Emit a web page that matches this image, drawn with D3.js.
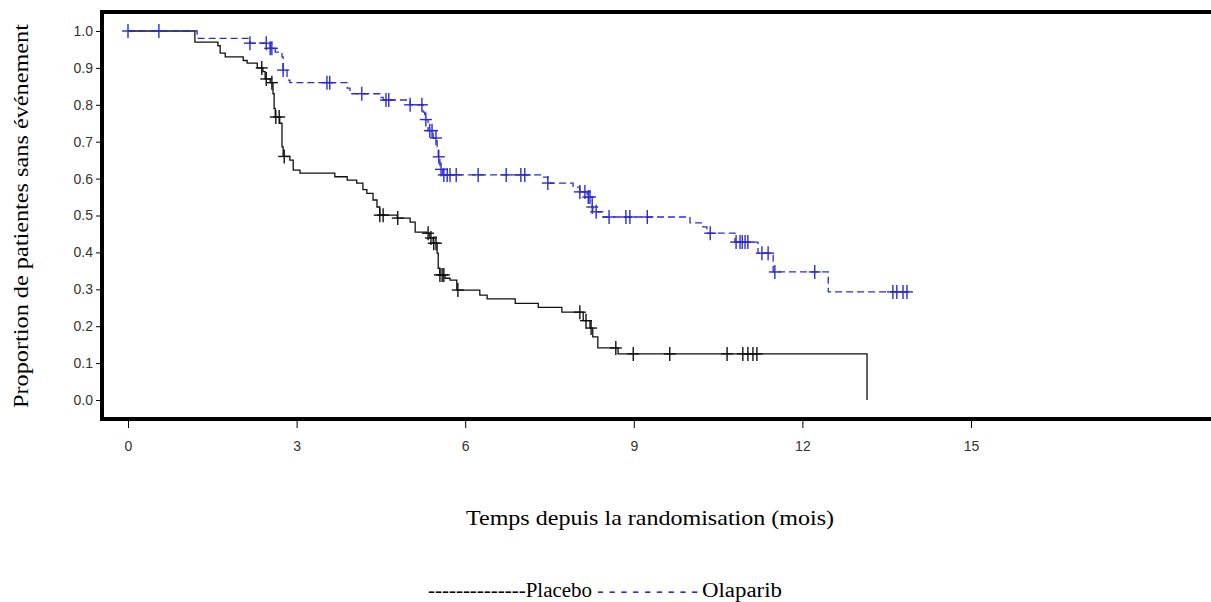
<html>
<body style="margin:0;background:#fff">
<meta charset="utf-8">
<script src="https://d3js.org/d3.v7.min.js"></script>
<div id="chart"></div>
<script>
// Kaplan-Meier steps: [time (months), survival after the event]
var placeboSteps = [
  [1.19, 0.97], [1.60, 0.96], [1.64, 0.94], [1.73, 0.93], [2.05, 0.92], [2.12, 0.913],
  [2.30, 0.90], [2.40, 0.89], [2.44, 0.87], [2.53, 0.86], [2.58, 0.83], [2.60, 0.79],
  [2.62, 0.767], [2.70, 0.75], [2.74, 0.686], [2.76, 0.66], [2.88, 0.65], [2.94, 0.623],
  [3.06, 0.615], [3.68, 0.605], [3.90, 0.596], [4.07, 0.588], [4.18, 0.57], [4.25, 0.56],
  [4.36, 0.542], [4.43, 0.523], [4.48, 0.501], [4.79, 0.493], [5.02, 0.482], [5.11, 0.455],
  [5.32, 0.452], [5.37, 0.439], [5.43, 0.425], [5.50, 0.398], [5.52, 0.357], [5.55, 0.339],
  [5.64, 0.33], [5.73, 0.325], [5.85, 0.298], [6.26, 0.284], [6.39, 0.274], [6.89, 0.262],
  [7.30, 0.251], [7.72, 0.238], [8.10, 0.215], [8.22, 0.195], [8.27, 0.171], [8.36, 0.141],
  [8.72, 0.125], [13.15, 0]
];
var placeboCensor = [2.38, 2.46, 2.56, 2.63, 2.69, 2.78, 4.48, 4.54, 4.80, 5.34, 5.39, 5.44,
  5.48, 5.55, 5.59, 5.62, 5.87, 8.04, 8.15, 8.24, 8.68, 8.99, 9.64, 10.66, 10.94, 11.03,
  11.12, 11.19];

var olaparibSteps = [
  [1.23, 0.98], [2.17, 0.967], [2.53, 0.953], [2.62, 0.943], [2.74, 0.93], [2.76, 0.894],
  [2.83, 0.867], [2.88, 0.86], [3.90, 0.845], [3.95, 0.83], [4.48, 0.82], [4.54, 0.813],
  [5.02, 0.80], [5.25, 0.78], [5.28, 0.76], [5.34, 0.73], [5.43, 0.71], [5.50, 0.686],
  [5.52, 0.659], [5.55, 0.625], [5.60, 0.61], [7.38, 0.604], [7.47, 0.588], [7.92, 0.577],
  [8.04, 0.564], [8.17, 0.55], [8.26, 0.523], [8.27, 0.51], [8.45, 0.496], [10.0, 0.48],
  [10.23, 0.469], [10.30, 0.452], [10.80, 0.428], [11.21, 0.398], [11.48, 0.347],
  [12.46, 0.293], [13.91, 0.293]
];
var olaparibCensor = [0, 0.55, 2.17, 2.46, 2.53, 2.56, 2.76, 3.54, 3.59, 4.16, 4.59, 4.64,
  5.02, 5.23, 5.30, 5.37, 5.41, 5.48, 5.53, 5.57, 5.62, 5.68, 5.73, 5.84, 6.23, 6.73, 6.99,
  7.06, 7.47, 8.04, 8.13, 8.19, 8.22, 8.26, 8.33, 8.56, 8.86, 8.93, 9.24, 10.36, 10.82,
  10.89, 10.93, 10.98, 11.03, 11.28, 11.39, 11.51, 12.22, 13.61, 13.68, 13.79, 13.86];

var xTicks = [0, 3, 6, 9, 12, 15];
var yTicks = [0, 0.1, 0.2, 0.3, 0.4, 0.5, 0.6, 0.7, 0.8, 0.9, 1.0];

var W = 1211, H = 602;
var frameLeft = 102, frameTop = 12, frameBottom = 419;
var blue = "#2b2bd6";
var serif = "Liberation Serif, Times New Roman, serif";
var sans = "Liberation Sans, Arial, sans-serif";

var svg = d3.select("#chart").append("svg")
  .attr("width", W).attr("height", H);

var x = d3.scaleLinear().domain([0, 15]).range([128, 971]);
var y = d3.scaleLinear().domain([0, 1]).range([400, 31]);

// y axis ticks + labels
var yAxis = svg.append("g")
  .attr("transform", "translate(" + frameLeft + ",0)")
  .call(d3.axisLeft(y).tickValues(yTicks).tickFormat(d3.format(".1f")).tickSize(6).tickPadding(3));
yAxis.select(".domain").remove();
yAxis.selectAll("text").style("font-family", sans)
  .style("font-size", "14px").attr("fill", "#333");

// x axis ticks + labels
var xAxis = svg.append("g")
  .attr("transform", "translate(0," + frameBottom + ")")
  .call(d3.axisBottom(x).tickValues(xTicks).tickSize(9).tickPadding(13));
xAxis.select(".domain").remove();
xAxis.selectAll("text").style("font-family", sans)
  .style("font-size", "14px").attr("fill", "#333");

// frame: left, top, bottom (open on the right)
svg.append("path")
  .attr("d", "M" + W + "," + frameTop + "H" + frameLeft + "V" + frameBottom + "H" + W)
  .attr("fill", "none").attr("stroke", "#000").attr("stroke-width", 4);

function stepValue(steps, t) {
  var v = 1;
  steps.forEach(function(s) { if (s[0] <= t) v = s[1]; });
  return v;
}

var line = d3.line()
  .x(function(d) { return x(d[0]); })
  .y(function(d) { return y(d[1]); })
  .curve(d3.curveStepAfter);

var series = [
  {steps: placeboSteps, censor: placeboCensor, color: "#111", dash: null},
  {steps: olaparibSteps, censor: olaparibCensor, color: blue, dash: "7,4"}
];

series.forEach(function(s) {
  var pts = [[0, 1]].concat(s.steps);
  svg.append("path")
    .datum(pts)
    .attr("d", line)
    .attr("fill", "none")
    .attr("stroke", s.color)
    .attr("stroke-width", 1.3)
    .attr("stroke-dasharray", s.dash);

  var g = svg.append("g").attr("stroke", s.color).attr("stroke-width", 1.4);
  s.censor.forEach(function(t) {
    var cx = x(t), cy = y(stepValue(s.steps, t));
    g.append("line").attr("x1", cx - 6).attr("x2", cx + 6).attr("y1", cy).attr("y2", cy);
    g.append("line").attr("x1", cx).attr("x2", cx).attr("y1", cy - 7).attr("y2", cy + 7);
  });
});

// axis titles
svg.append("text")
  .attr("transform", "translate(28,216) rotate(-90)")
  .attr("text-anchor", "middle")
  .attr("textLength", 384).attr("lengthAdjust", "spacingAndGlyphs")
  .style("font-family", serif)
  .style("font-size", "20px")
  .text("Proportion de patientes sans événement");

svg.append("text")
  .attr("x", 650).attr("y", 525)
  .attr("text-anchor", "middle")
  .attr("textLength", 368).attr("lengthAdjust", "spacingAndGlyphs")
  .style("font-family", serif)
  .style("font-size", "21px")
  .text("Temps depuis la randomisation (mois)");

// legend
function legText(x0, x1, txt, color) {
  svg.append("text")
    .attr("x", x0).attr("y", 597)
    .attr("textLength", x1 - x0).attr("lengthAdjust", "spacingAndGlyphs")
    .attr("fill", color)
    .style("font-family", serif)
    .style("font-size", "20px")
    .text(txt);
}
legText(428, 592, "--------------Placebo", "#000");
legText(597, 698, "- - - - - - - - -", blue);
legText(702, 782, "Olaparib", "#000");
</script>
</body>
</html>
